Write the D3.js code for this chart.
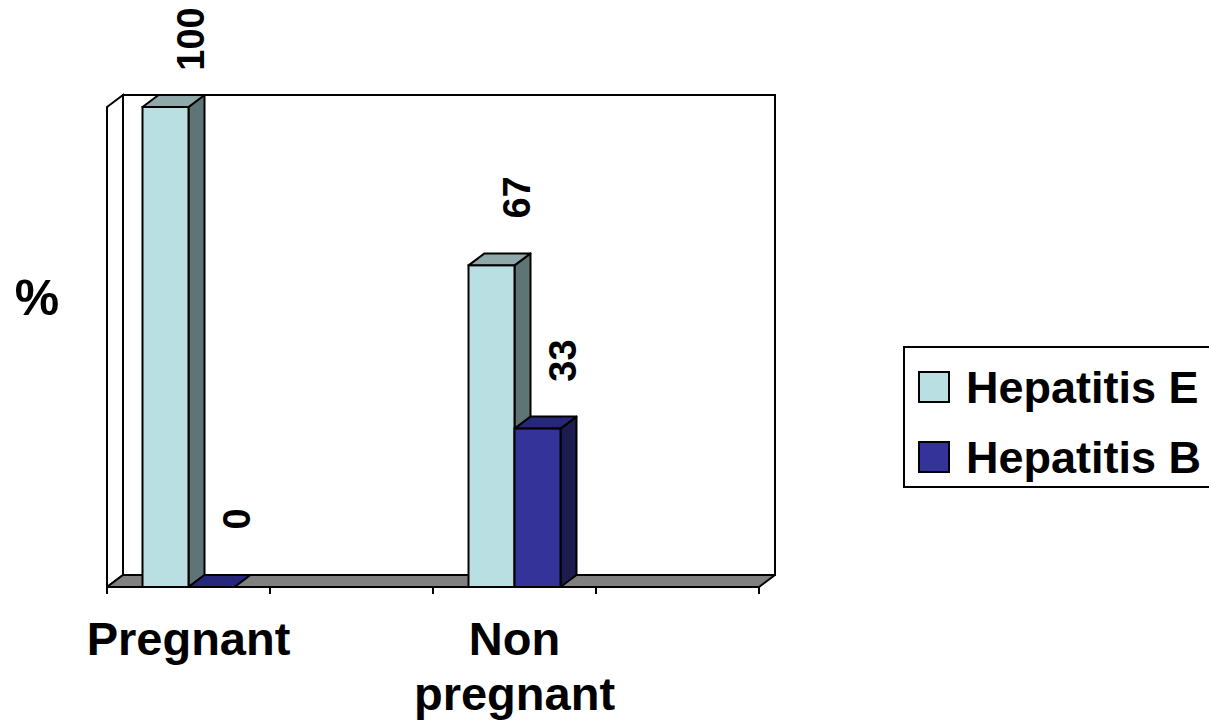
<!DOCTYPE html>
<html>
<head>
<meta charset="utf-8">
<script src="https://cdn.jsdelivr.net/npm/d3@7"></script>
<style>
  html, body { margin: 0; padding: 0; background: #ffffff; }
  svg { display: block; }
  text { font-family: "Liberation Sans", Arial, sans-serif; font-weight: bold; fill: #000; }
</style>
</head>
<body>
<svg id="chart" width="1209" height="727"></svg>
<script>
// ---- data ----
const categories = ["Pregnant", "", "Non pregnant", ""];
const seriesNames = ["Hepatitis E", "Hepatitis B"];
const hepatitisE = [100, null, 67, null];
const hepatitisB = [0, null, 33, null];
const yAxisTitle = "%";

// ---- styles ----
const colors = {
  "Hepatitis E": { front: "#BADFE2", top: "#8FA9AB", side: "#5E7475" },
  "Hepatitis B": { front: "#333399", top: "#26267A", side: "#1C1C4F" }
};
const floorColor = "#808080";

const svg = d3.select("#chart");

// front plane
const pL = 107, pR = 759, pB = 587, pT = 107;
const depth = { dx: 16, dy: -12 };

const x0 = d3.scaleBand().domain(d3.range(categories.length)).range([pL, pR]).paddingInner(0).paddingOuter(0);
const x1 = d3.scaleBand().domain(seriesNames).range([0, x0.bandwidth()]).paddingInner(0).paddingOuter(0.772);
const yScale = d3.scaleLinear().domain([0, 100]).range([pB, pT]);

const lineGen = d3.line();
const poly = pts => lineGen(pts) + "Z";

// back wall
svg.append("path")
  .attr("d", poly([[pL + depth.dx, yScale(100) + depth.dy], [pR + depth.dx, yScale(100) + depth.dy],
                   [pR + depth.dx, yScale(0) + depth.dy], [pL + depth.dx, yScale(0) + depth.dy]]))
  .attr("fill", "#fff").attr("stroke", "#000").attr("stroke-width", 2);

// left side wall
svg.append("path")
  .attr("d", poly([[pL, yScale(100)], [pL + depth.dx, yScale(100) + depth.dy],
                   [pL + depth.dx, yScale(0) + depth.dy], [pL, yScale(0)]]))
  .attr("fill", "#fff").attr("stroke", "#000").attr("stroke-width", 2);

// floor
svg.append("path")
  .attr("d", poly([[pL, yScale(0)], [pL + depth.dx, yScale(0) + depth.dy],
                   [pR + depth.dx, yScale(0) + depth.dy], [pR, yScale(0)]]))
  .attr("fill", floorColor).attr("stroke", "#000").attr("stroke-width", 2)
  .attr("stroke-linejoin", "round");

// bars
const bars = [];
categories.forEach((c, i) => {
  [[seriesNames[0], hepatitisE[i]], [seriesNames[1], hepatitisB[i]]].forEach(([s, v]) => {
    if (v !== null && v !== undefined) bars.push({ i, s, v });
  });
});

const barG = svg.append("g");
bars.forEach(b => {
  const xl = x0(b.i) + x1(b.s);
  const xr = xl + x1.bandwidth();
  const yt = yScale(b.v), yb = yScale(0);
  const c = colors[b.s];
  const g = barG.append("g");
  if (yb - yt > 0) {
    g.append("path")
      .attr("d", poly([[xr, yt], [xr + depth.dx, yt + depth.dy], [xr + depth.dx, yb + depth.dy], [xr, yb]]))
      .attr("fill", c.side).attr("stroke", "#000").attr("stroke-width", 2).attr("stroke-linejoin", "round");
  }
  g.append("path")
    .attr("d", poly([[xl, yt], [xl + depth.dx, yt + depth.dy], [xr + depth.dx, yt + depth.dy], [xr, yt]]))
    .attr("fill", c.top).attr("stroke", "#000").attr("stroke-width", 2).attr("stroke-linejoin", "round");
  if (yb - yt > 0) {
    g.append("rect")
      .attr("x", xl).attr("y", yt).attr("width", xr - xl).attr("height", yb - yt)
      .attr("fill", c.front).attr("stroke", "#000").attr("stroke-width", 2);
  }
});

// value labels (rotated)
bars.forEach(b => {
  const xr = x0(b.i) + x1(b.s) + x1.bandwidth();
  const cx = xr + 2;
  const cy = yScale(b.v) - 68;
  svg.append("text")
    .attr("transform", `translate(${cx},${cy}) rotate(-90)`)
    .attr("text-anchor", "middle")
    .attr("dy", "0.36em")
    .style("font-size", "38px")
    .text(b.v);
});

// x axis line and ticks
svg.append("line").attr("x1", pL).attr("x2", pR).attr("y1", pB).attr("y2", pB)
  .attr("stroke", "#000").attr("stroke-width", 2);
const tickXs = d3.range(categories.length).map(i => x0(i)).concat([pR]);
svg.selectAll(".tick").data(tickXs).enter().append("line")
  .attr("x1", d => d).attr("x2", d => d).attr("y1", pB).attr("y2", pB + 7)
  .attr("stroke", "#000").attr("stroke-width", 2);

// category labels
categories.forEach((c, i) => {
  if (!c) return;
  const words = c.split(" ");
  const cxp = x0(i) + x0.bandwidth() / 2;
  const t = svg.append("text")
    .attr("x", cxp)
    .attr("y", 655)
    .attr("text-anchor", "middle")
    .style("font-size", "47px");
  words.forEach((w, k) => {
    t.append("tspan").attr("x", cxp).attr("dy", k === 0 ? 0 : 55).text(w);
  });
});

// y axis title
svg.append("text").attr("x", 37).attr("y", 315).attr("text-anchor", "middle")
  .style("font-size", "50px").text(yAxisTitle);

// legend
const lg = svg.append("g");
lg.append("rect").attr("x", 904).attr("y", 347).attr("width", 360).attr("height", 140)
  .attr("fill", "#fff").attr("stroke", "#000").attr("stroke-width", 2);
seriesNames.forEach((s, k) => {
  lg.append("rect").attr("x", 919).attr("y", 372 + k * 70).attr("width", 30).attr("height", 30)
    .attr("fill", colors[s].front).attr("stroke", "#000").attr("stroke-width", 2);
  lg.append("text").attr("x", 966).attr("y", 403 + k * 70)
    .style("font-size", "45px").text(s);
});
</script>
</body>
</html>
